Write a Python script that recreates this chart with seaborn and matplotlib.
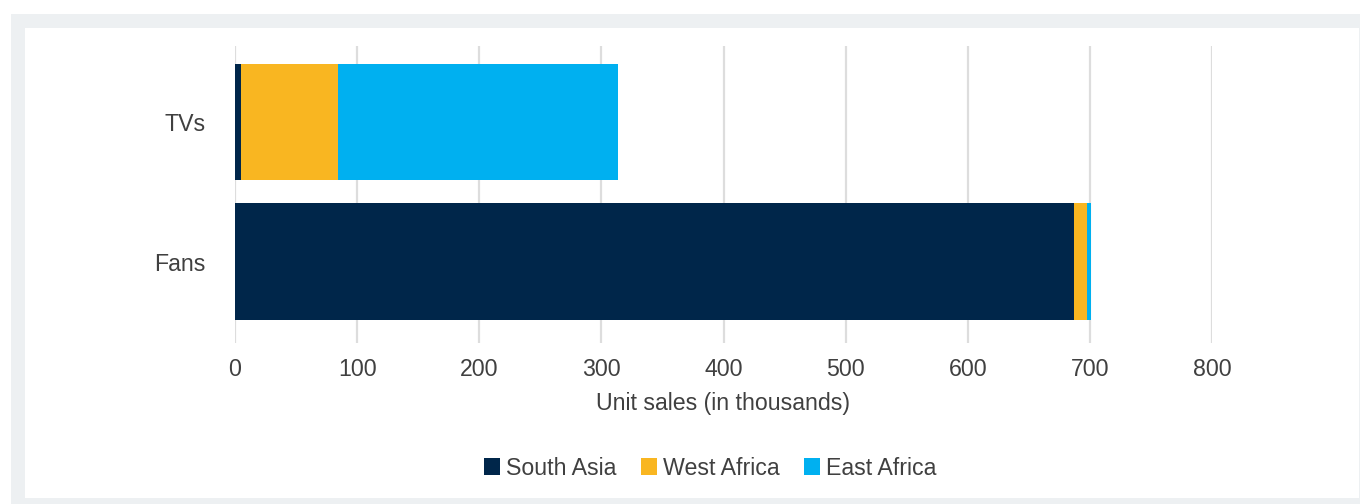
import numpy as np
import pandas as pd
import matplotlib
matplotlib.use("Agg")
import matplotlib.pyplot as plt
import seaborn as sns
from matplotlib.patches import Rectangle, Patch

categories = ["TVs", "Fans"]
series = ["South Asia", "West Africa", "East Africa"]
south_asia = [5, 687]
west_africa = [79, 11]
east_africa = [230, 3]
colors = ["#00264A", "#F9B621", "#00B0F0"]
xticks = [0, 100, 200, 300, 400, 500, 600, 700, 800]
xlabel = "Unit sales (in thousands)"

sns.set_theme(style="white")
plt.rcParams["font.family"] = ["Liberation Sans", "DejaVu Sans"]

W, H = 1360, 504
fig = plt.figure(figsize=(W / 100, H / 100), dpi=100, facecolor="white")
fig.patches.append(Rectangle((11 / W, 0), (W - 11) / W, (H - 14) / H, transform=fig.transFigure,
                             facecolor="#EDF0F2", edgecolor="none", zorder=-2))
fig.patches.append(Rectangle((25 / W, 6 / H), (1359 - 25) / W, 470 / H, transform=fig.transFigure,
                             facecolor="white", edgecolor="none", zorder=-1))

ax = fig.add_axes([235 / W, 161 / H, 977 / W, 297 / H])
ax.set_facecolor("none")

df = pd.DataFrame({"category": categories, "South Asia": south_asia,
                   "West Africa": west_africa, "East Africa": east_africa})
cum = df[series].cumsum(axis=1)
for i in reversed(range(len(series))):
    plot_df = pd.DataFrame({"category": df["category"], "value": cum[series[i]]})
    sns.barplot(data=plot_df, x="value", y="category", orient="h", color=colors[i],
                saturation=1, width=0.835, ax=ax, errorbar=None, zorder=3,
                linewidth=0, edgecolor="none")

ax.set_xlim(0, 800)
ax.set_ylim(1.584, -0.545)
ax.set_xticks(xticks)
ax.set_xticklabels([str(t) for t in xticks])
ax.set_axisbelow(True)
ax.xaxis.grid(True, color="#DDDDDD", linewidth=1.6)
ax.yaxis.grid(False)
for s in ax.spines.values():
    s.set_visible(False)
fs = 16.7
ax.tick_params(axis="x", length=0, pad=11, labelsize=fs, labelcolor="#404040")
ax.tick_params(axis="y", length=0, pad=21, labelsize=fs, labelcolor="#404040")
ax.set_ylabel("")
ax.set_xlabel(xlabel, fontsize=fs, color="#404040", labelpad=8)

handles = [Patch(facecolor=c, edgecolor="none") for c in colors]
fig.legend(handles, series, loc="center", bbox_to_anchor=(0.522, 0.071), ncol=3, frameon=False,
           handlelength=0.7, handleheight=0.7, handletextpad=0.25, columnspacing=1.05,
           fontsize=fs, labelcolor="#404040")

fig.savefig("out.png", dpi=100, facecolor="white")
